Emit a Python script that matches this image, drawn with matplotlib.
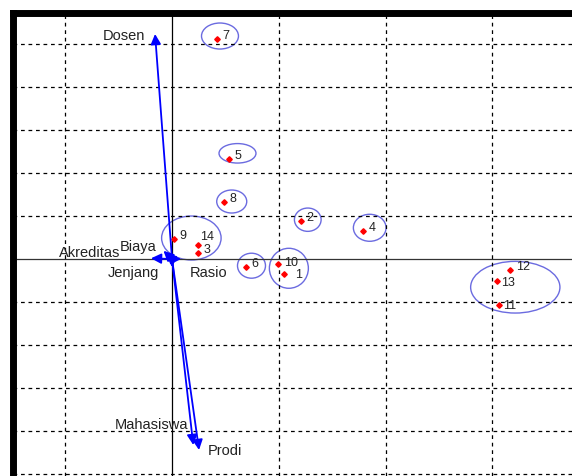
import matplotlib.pyplot as plt
from matplotlib.patches import Ellipse

# object scores (first two dimensions)
obj_ids = ['1', '2', '3', '4', '5', '6', '7', '8', '9', '10', '11', '12', '13', '14']
obj_x = [1.049, 1.205, 0.241, 1.791, 0.537, 0.690, 0.421, 0.487, 0.016, 0.995, 3.065, 3.165, 3.046, 0.241]
obj_y = [-0.349, 0.891, 0.133, 0.658, 2.326, -0.179, 5.123, 1.333, 0.458, -0.109, -1.077, -0.263, -0.512, 0.333]

# variable loadings
var_names = ['Dosen', 'Prodi', 'Mahasiswa', 'Akreditas', 'Biaya', 'Jenjang', 'Rasio']
var_x = [-0.159, 0.253, 0.199, -0.197, -0.08, 0.0, 0.085]
var_y = [5.233, -4.442, -4.326, 0.016, 0.19, -0.19, 0.0]

# cluster groups (centre x, centre y, width, height)
grp_cx = [0.449, 0.613, 0.559, 0.181, 0.744, 1.094, 1.271, 1.851, 3.214]
grp_cy = [5.186, 2.458, 1.337, 0.488, -0.156, -0.216, 0.914, 0.726, -0.656]
grp_w = [0.346, 0.346, 0.281, 0.557, 0.262, 0.365, 0.250, 0.306, 0.836]
grp_h = [0.605, 0.453, 0.535, 1.023, 0.581, 0.930, 0.542, 0.628, 1.202]

fig = plt.figure(figsize=(5.72, 4.77), dpi=100)
ax = fig.add_axes([13 / 572, 0, 559 / 572, 463.5 / 477])
ax.set_xlim(-1.489, 3.745)
ax.set_ylim(-5.047, 5.733)

# grid
ax.set_xticks([-1, 1, 2, 3])
ax.set_yticks([-5, -4, -3, -2, -1, 1, 2, 3, 4, 5])
ax.grid(True, color='black', linestyle=(0, (3, 3)), linewidth=0.9)
ax.tick_params(length=0, labelbottom=False, labelleft=False)
ax.axhline(0, color='#333333', linewidth=0.9)
ax.axvline(0, color='black', linewidth=0.9)

for s in ['right', 'bottom']:
    ax.spines[s].set_visible(False)
for s in ['top', 'left']:
    ax.spines[s].set_linewidth(5.0)

# groups
for cx, cy, w, h in zip(grp_cx, grp_cy, grp_w, grp_h):
    ax.add_patch(Ellipse((cx, cy), w, h, fill=False, edgecolor='#6b6be0', linewidth=1.0))

# objects
ax.plot(obj_x, obj_y, linestyle='none', marker='D', markersize=2.8, color='red')
label_offsets = {'14': (1.5, 6.5), '1': (8, 0), '10': (4, 1), '13': (2.5, -1), '11': (2.5, 0)}
for name, x, y in zip(obj_ids, obj_x, obj_y):
    dx, dy = label_offsets.get(name, (4, 3))
    ax.annotate(name, (x, y), xytext=(dx, dy), textcoords='offset points',
                ha='left', va='center', fontsize=9, color='#222222',
                family='Liberation Sans')

# variable arrows
for x, y in zip(var_x, var_y):
    ax.annotate('', xy=(x, y), xytext=(0, 0),
                arrowprops=dict(arrowstyle='-|>', color='blue', lw=1.3,
                                mutation_scale=15, shrinkA=0, shrinkB=0))

var_label_pos = {
    'Dosen': (-0.253, 5.209, 'right'),
    'Prodi': (0.337, -4.442, 'left'),
    'Mahasiswa': (0.150, -3.837, 'right'),
    'Akreditas': (-0.768, 0.170, 'center'),
    'Biaya': (-0.315, 0.309, 'center'),
    'Jenjang': (-0.360, -0.309, 'center'),
    'Rasio': (0.346, -0.309, 'center'),
}
for name in var_names:
    tx, ty, ha = var_label_pos[name]
    ax.text(tx, ty, name, ha=ha, va='center', fontsize=10.5, color='#222222',
            family='Liberation Sans')

fig.savefig('out.png', dpi=100)
